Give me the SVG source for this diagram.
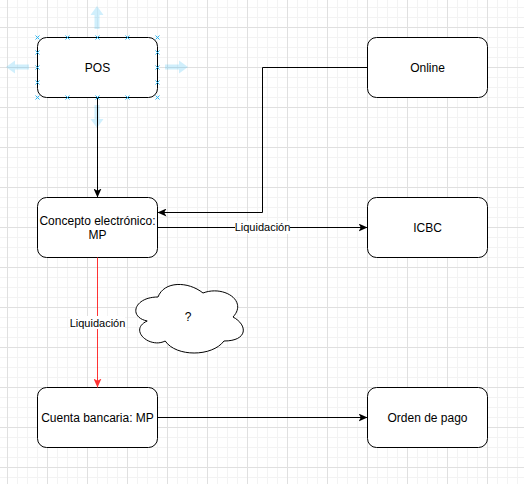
<svg xmlns="http://www.w3.org/2000/svg" xmlns:xlink="http://www.w3.org/1999/xlink" width="524" height="484" viewBox="0 0 524 484">
  <style>
    .node { fill: #ffffff; stroke: #000000; stroke-width: 1; }
    .lbl { font-family: "Liberation Sans", Arial, Helvetica, sans-serif; font-size: 12px; fill: #000000; text-anchor: middle; }
    .elbl { font-family: "Liberation Sans", Arial, Helvetica, sans-serif; font-size: 11px; fill: #000000; text-anchor: middle; }
    .edge { fill: none; stroke: #000000; stroke-width: 1; }
    .edge-red { fill: none; stroke: #ff3333; stroke-width: 1; }
    .lblbg { fill: #ffffff; }
    .hover { fill: #29b6f2; fill-opacity: 0.22; }
    .handle { stroke: #29b6f2; stroke-width: 1; fill: none; }
  </style>
  <defs>
    <pattern id="grid" x="7" y="27" width="40" height="40" patternUnits="userSpaceOnUse">
      <path d="M10.5,0 V40 M20.5,0 V40 M30.5,0 V40 M0,10.5 H40 M0,20.5 H40 M0,30.5 H40" stroke="#f3f3f3" stroke-width="1" fill="none"/>
      <path d="M0.5,0 V40 M0,0.5 H40" stroke="#e0e0e0" stroke-width="1" fill="none"/>
    </pattern>
    <marker id="arrow" viewBox="0 0 9 8" refX="9" refY="4" markerWidth="9" markerHeight="8" markerUnits="userSpaceOnUse" orient="auto">
      <path d="M0,0 L9,4 L0,8 L2.3,4 Z" fill="#000000"/>
    </marker>
    <marker id="arrow-red" viewBox="0 0 9 8" refX="9" refY="4" markerWidth="9" markerHeight="8" markerUnits="userSpaceOnUse" orient="auto">
      <path d="M0,0 L9,4 L0,8 L2.3,4 Z" fill="#ff3333"/>
    </marker>
    <path id="harrow" d="M0,-2.5 L14,-2.5 L14,-6.5 L23,0 L14,6.5 L14,2.5 L0,2.5 Z"/>
    <path id="hx" d="M-2,-2 L2,2 M-2,2 L2,-2"/>
  </defs>

  <rect width="524" height="484" fill="#ffffff"/>
  <rect width="524" height="484" fill="url(#grid)"/>

  <g id="hover-arrows">
    <use xlink:href="#harrow" class="hover" transform="translate(165,67)"/>
    <use xlink:href="#harrow" class="hover" transform="translate(29,67) rotate(180)"/>
    <use xlink:href="#harrow" class="hover" transform="translate(97,29) rotate(-90)"/>
    <use xlink:href="#harrow" class="hover" transform="translate(97,105) rotate(90)"/>
  </g>

  <g id="node-pos">
    <rect class="node" x="37.5" y="37.5" width="120" height="60" rx="9" ry="9"/>
    <text class="lbl" x="97.5" y="71.5">POS</text>
  </g>
  <g id="node-online">
    <rect class="node" x="367.5" y="37.5" width="120" height="60" rx="9" ry="9"/>
    <text class="lbl" x="427.5" y="71.5">Online</text>
  </g>
  <g id="node-concepto">
    <rect class="node" x="37.5" y="197.5" width="120" height="60" rx="9" ry="9"/>
    <text class="lbl" x="97.5" y="224.5">Concepto electrónico:</text>
    <text class="lbl" x="97.5" y="238.5">MP</text>
  </g>
  <g id="node-icbc">
    <rect class="node" x="367.5" y="197.5" width="120" height="60" rx="9" ry="9"/>
    <text class="lbl" x="427.5" y="231.5">ICBC</text>
  </g>
  <g id="node-cuenta">
    <rect class="node" x="37.5" y="387.5" width="120" height="60" rx="9" ry="9"/>
    <text class="lbl" x="97.5" y="421.5">Cuenta bancaria: MP</text>
  </g>
  <g id="node-orden">
    <rect class="node" x="367.5" y="387.5" width="120" height="60" rx="9" ry="9"/>
    <text class="lbl" x="427.5" y="421.5">Orden de pago</text>
  </g>
  <g id="node-cloud">
    <path class="node" transform="translate(128,277)" d="M30,20 C6,20 0,40 19.2,44 C0,52.8 21.6,72 37.2,64 C48,80 84,80 96,64 C120,64 120,48 105,40 C120,24 96,8 75,16 C60,4 36,4 30,20 Z"/>
    <text class="lbl" x="188" y="321">?</text>
  </g>

  <g id="connectors">
    <path class="edge" d="M97.5,97.5 V197.5" marker-end="url(#arrow)"/>
    <path class="edge" d="M367.5,67.5 H262.5 V212.5 H157.5" marker-end="url(#arrow)"/>
    <path class="edge" d="M157.5,227.5 H367.5" marker-end="url(#arrow)"/>
    <path class="edge-red" d="M97.5,257.5 V387.5" marker-end="url(#arrow-red)"/>
    <path class="edge" d="M157.5,417.5 H367.5" marker-end="url(#arrow)"/>
    <rect class="lblbg" x="235" y="221" width="55" height="13"/>
    <text class="elbl" x="262.5" y="231">Liquidación</text>
    <rect class="lblbg" x="70" y="316" width="55" height="13"/>
    <text class="elbl" x="97.5" y="326.5">Liquidación</text>
  </g>

  <g id="selection-handles">
    <use xlink:href="#hx" class="handle" x="37.5" y="37.5"/>
    <use xlink:href="#hx" class="handle" x="67.5" y="37.5"/>
    <use xlink:href="#hx" class="handle" x="97.5" y="37.5"/>
    <use xlink:href="#hx" class="handle" x="127.5" y="37.5"/>
    <use xlink:href="#hx" class="handle" x="157.5" y="37.5"/>
    <use xlink:href="#hx" class="handle" x="37.5" y="97.5"/>
    <use xlink:href="#hx" class="handle" x="67.5" y="97.5"/>
    <use xlink:href="#hx" class="handle" x="97.5" y="97.5"/>
    <use xlink:href="#hx" class="handle" x="127.5" y="97.5"/>
    <use xlink:href="#hx" class="handle" x="157.5" y="97.5"/>
    <use xlink:href="#hx" class="handle" x="37.5" y="52.5"/>
    <use xlink:href="#hx" class="handle" x="37.5" y="67.5"/>
    <use xlink:href="#hx" class="handle" x="37.5" y="82.5"/>
    <use xlink:href="#hx" class="handle" x="157.5" y="52.5"/>
    <use xlink:href="#hx" class="handle" x="157.5" y="67.5"/>
    <use xlink:href="#hx" class="handle" x="157.5" y="82.5"/>
  </g>
</svg>
